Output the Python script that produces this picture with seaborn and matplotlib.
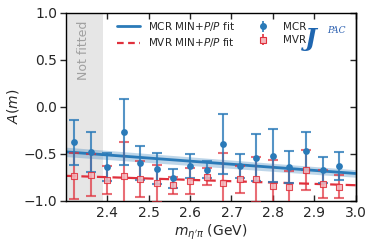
import numpy as np
import pandas as pd
import matplotlib
matplotlib.use("Agg")
import matplotlib.pyplot as plt
import seaborn as sns
from matplotlib.lines import Line2D

# ---- data ----
mass = [2.32, 2.36, 2.40, 2.44, 2.48, 2.52, 2.56, 2.60, 2.64, 2.68,
        2.72, 2.76, 2.80, 2.84, 2.88, 2.92, 2.96]
mcr_val = [-0.38, -0.48, -0.64, -0.27, -0.60, -0.66, -0.76, -0.63, -0.67, -0.40,
           -0.63, -0.54, -0.52, -0.645, -0.47, -0.67, -0.63]
mcr_err = [0.235, 0.21, 0.15, 0.35, 0.18, 0.165, 0.10, 0.13, 0.09, 0.32,
           0.13, 0.25, 0.28, 0.17, 0.20, 0.14, 0.15]
mvr_val = [-0.737, -0.727, -0.78, -0.737, -0.772, -0.815, -0.833, -0.79, -0.745, -0.815,
           -0.772, -0.772, -0.844, -0.855, -0.673, -0.825, -0.851]
mvr_err = [0.24, 0.22, 0.15, 0.36, 0.19, 0.20, 0.09, 0.14, 0.09, 0.32,
           0.145, 0.24, 0.28, 0.17, 0.21, 0.15, 0.12]

fit_x = [2.30, 3.00]
mcr_fit = [-0.48, -0.71]
mcr_fit_err = [0.05, 0.04]
mvr_fit = [-0.735, -0.835]

xticks = [2.4, 2.5, 2.6, 2.7, 2.8, 2.9, 3.0]
yticks = [-1.0, -0.5, 0.0, 0.5, 1.0]

blue = "#2a7ab8"
red = "#e0303c"
pink = "#f4b8bd"

sns.set_style("white")
plt.rcParams["font.family"] = ["DejaVu Sans"]
plt.rcParams["mathtext.fontset"] = "dejavusans"

fig = plt.figure(figsize=(3.74, 2.46), dpi=100)
ax = fig.add_axes([0.176, 0.184, 0.775, 0.764])

# not fitted region
ax.axvspan(2.30, 2.39, color="#e6e6e6", lw=0, zorder=0)
ax.text(2.342, 0.60, "Not fitted", rotation=90, color="#a0a0a0",
        fontsize=9, ha="center", va="center")

# fit lines
fit_df = pd.DataFrame({"m": fit_x, "mcr": mcr_fit, "mvr": mvr_fit})
lo = np.array(mcr_fit) - np.array(mcr_fit_err)
hi = np.array(mcr_fit) + np.array(mcr_fit_err)
ax.fill_between(fit_x, lo, hi, color=blue, alpha=0.3, lw=0, zorder=1)
sns.lineplot(data=fit_df, x="m", y="mcr", ax=ax, color=blue, lw=2, zorder=2)
sns.lineplot(data=fit_df, x="m", y="mvr", ax=ax, color=red, lw=1.6,
             linestyle=(0, (4.5, 2.5)), zorder=2)

# data points
ax.errorbar(mass, mvr_val, yerr=mvr_err, fmt="none", ecolor=red,
            elinewidth=1.5, capsize=3.8, capthick=1.5, alpha=0.7, zorder=3)
ax.errorbar(mass, mcr_val, yerr=mcr_err, fmt="none", ecolor=blue,
            elinewidth=1.5, capsize=3.8, capthick=1.5, alpha=0.8, zorder=4)
pts = pd.DataFrame({"m": mass, "mcr": mcr_val, "mvr": mvr_val})
sns.scatterplot(data=pts, x="m", y="mvr", ax=ax, marker="s", s=16,
                facecolor=pink, edgecolor=red, linewidth=0.8, alpha=0.85, zorder=5)
sns.scatterplot(data=pts, x="m", y="mcr", ax=ax, marker="o", s=24,
                color=blue, edgecolor=blue, linewidth=0, zorder=6)

ax.set_xlim(2.3, 3.0)
ax.set_ylim(-1.0, 1.0)
ax.set_xticks(xticks)
ax.set_yticks(yticks)
ax.set_xticklabels([f"{t:.1f}" for t in xticks])
ax.set_yticklabels(["\u22121.0", "\u22120.5", "0.0", "0.5", "1.0"])
ax.tick_params(axis="x", direction="in", top=True, bottom=True, length=4,
               width=1, labelsize=10, pad=4)
ax.tick_params(axis="y", direction="out", left=True, right=False, length=4,
               width=1, labelsize=10, pad=2)
sec = ax.secondary_yaxis("right")
sec.set_yticks(yticks)
sec.tick_params(direction="in", length=4, width=1, labelright=False)
for s in ax.spines.values():
    s.set_color("black")
    s.set_linewidth(1.0)
for s in sec.spines.values():
    s.set_linewidth(1.0)

ax.set_xlabel(r"$m_{\eta'\pi}$ (GeV)", fontsize=10, labelpad=2)
ax.set_ylabel(r"$A(m)$", fontsize=10, labelpad=2)

# legend
h1 = Line2D([], [], color=blue, lw=2)
h2 = Line2D([], [], color=red, lw=1.6, linestyle=(0, (3, 2)))
h3 = ax.errorbar([], [], yerr=[], fmt="o", color=blue, ms=4, capsize=3, elinewidth=1.2)
h4 = ax.errorbar([], [], yerr=[], fmt="s", color=red, ms=4, mfc=pink, mew=0.8,
                 capsize=3, elinewidth=1.2)
leg = ax.legend([h1, h2, h3, h4],
                [r"MCR MIN+$P/P$ fit", r"MVR MIN+$P/P$ fit", "MCR", "MVR"],
                ncol=2, frameon=False, fontsize=7.5, loc="upper left",
                bbox_to_anchor=(0.15, 1.0), handlelength=2.2, handletextpad=0.8,
                columnspacing=1.6, labelspacing=0.3, borderaxespad=0.3)

# JPAC logo (text approximation)
ax.text(0.825, 0.86, "J", transform=ax.transAxes, fontsize=18, color="#1f66b0",
        family="DejaVu Serif", fontstyle="italic", fontweight="bold", ha="left", va="center")
ax.text(0.90, 0.905, "PAC", transform=ax.transAxes, fontsize=6.5, color="#2a5fb0",
        family="DejaVu Serif", fontstyle="italic", ha="left", va="center")

fig.savefig("out.png", dpi=100)
